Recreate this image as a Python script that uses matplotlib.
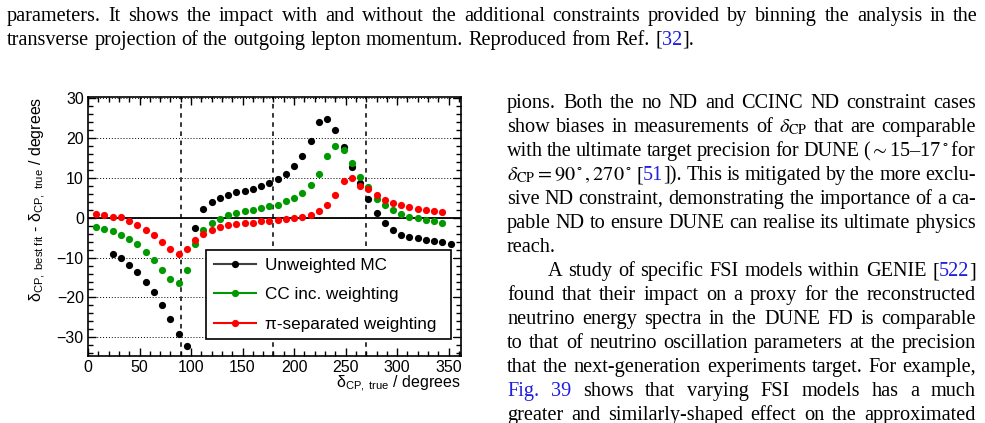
import re
import matplotlib
matplotlib.use("Agg")
import matplotlib.pyplot as plt
from matplotlib.lines import Line2D
from matplotlib.ticker import MultipleLocator

plt.rcParams['font.family'] = ['Liberation Sans', 'DejaVu Sans']
plt.rcParams['mathtext.fontset'] = 'custom'
plt.rcParams['mathtext.rm'] = 'Liberation Sans'
plt.rcParams['mathtext.it'] = 'Liberation Sans:italic'
plt.rcParams['mathtext.bf'] = 'Liberation Sans:bold'

# delta_CP true (degrees) for each fit
unweighted_x = list(range(24, 353, 8))
cc_inc_x = list(range(8, 345, 8))
pi_sep_x = list(range(8, 345, 8))

# delta_CP best fit - delta_CP true (degrees)
unweighted_y = [-9.1, -10.2, -11.8, -13.6, -16.0, -18.7, -21.8, -25.5, -29.3, -32.2,
                -2.5, 2.1, 4.0, 4.9, 5.6, 6.4, 6.7, 7.2, 7.9, 8.7,
                9.7, 11.1, 13.1, 15.5, 19.4, 24.1, 24.9, 22.0, 17.7, 12.8,
                8.8, 4.7, 1.2, -1.3, -3.1, -4.2, -4.7, -5.2, -5.6, -5.9,
                -6.2, -6.6]
cc_inc_y = [-2.3, -2.7, -3.3, -4.2, -5.3, -6.7, -8.5, -10.5, -13.0, -15.3,
            -16.4, -13.0, -6.6, -3.0, -1.3, -0.2, 0.6, 1.2, 1.6, 2.0,
            2.5, 2.9, 3.2, 4.2, 5.0, 6.3, 8.2, 11.1, 15.6, 18.0,
            16.9, 13.7, 10.3, 7.7, 4.8, 3.1, 1.9, 1.0, 0.3, 0.0,
            -0.5, -0.7, -1.2]
pi_sep_y = [1.0, 0.7, 0.3, 0.1, -0.8, -1.7, -3.1, -4.3, -6.2, -7.8,
            -9.1, -7.8, -5.6, -4.0, -3.0, -2.3, -1.9, -1.6, -1.3, -1.2,
            -0.9, -0.7, -0.5, -0.3, -0.1, 0.2, 0.6, 1.6, 3.2, 5.6,
            9.3, 10.1, 8.1, 7.3, 5.8, 4.5, 3.8, 3.2, 2.7, 2.2,
            2.0, 1.7, 1.5]

series_labels = ['Unweighted MC', 'CC inc. weighting', 'π-separated weighting']
series_colors = ['black', '#009900', '#ff0000']
highlight_dcp = [90, 180, 270]

# surrounding page text: (text, justified, left px, right px, baseline px)
caption_lines = [
    ("parameters.  It shows the impact with and without the additional constraints provided by binning the analysis in the", True, 7, 978, 21),
    ("transverse projection of the outgoing lepton momentum. Reproduced from Ref. [«32»].", False, 7, 978, 45),
]
column_lines = [
    "pions.  Both the no ND and CCINC ND constraint cases",
    r"show biases in measurements of $\delta_\mathrm{CP}$ that are comparable",
    r"with the ultimate target precision for DUNE ($\sim$15–17$^\circ$for",
    r"$\delta_\mathrm{CP}=90^\circ,270^\circ$ [«51»]). This is mitigated by the more exclu-",
    "sive ND constraint, demonstrating the importance of a ca-",
    "pable ND to ensure DUNE can realise its ultimate physics",
    "reach.",
    "A study of specific FSI models within GENIE [«522»]",
    "found that their impact on a proxy for the reconstructed",
    "neutrino energy spectra in the DUNE FD is comparable",
    "to that of neutrino oscillation parameters at the precision",
    "that the next-generation experiments target. For example,",
    "«Fig.» «39» shows that varying FSI models has a much",
    "greater and similarly-shaped effect on the approximated",
]

W, H = 985, 423
BODY = 14.6
LINK = '#1f1fdd'

fig = plt.figure(figsize=(W / 100, H / 100), dpi=100)
renderer = fig.canvas.get_renderer()


def body_text(x, y, s, color='black'):
    return fig.text(x / W, 1 - y / H, s, fontsize=BODY, color=color,
                    family='Liberation Serif', math_fontfamily='stix',
                    va='baseline', ha='left')


def word_width(pieces):
    total = 0
    for s, c in pieces:
        t = body_text(0, 0, s, c)
        total += t.get_window_extent(renderer).width
        t.remove()
    return total


def split_word(w):
    pieces = []
    for p in re.split(r'(«[^»]*»)', w):
        if not p:
            continue
        if p.startswith('«'):
            pieces.append((p[1:-1], LINK))
        else:
            pieces.append((p, 'black'))
    return pieces


def draw_line(text, justify, x0, x1, y):
    words = [split_word(w) for w in text.split()]
    widths = [word_width(w) for w in words]
    if justify and len(words) > 1:
        gap = (x1 - x0 - sum(widths)) / (len(words) - 1)
    else:
        gap = 0.25 * BODY * 100 / 72
    x = x0
    for w, wd in zip(words, widths):
        xp = x
        for s, c in w:
            t = body_text(xp, y, s, c)
            xp += t.get_window_extent(renderer).width
        x += wd + gap


for text, just, x0, x1, y in caption_lines:
    draw_line(text, just, x0, x1, y)

for i, text in enumerate(column_lines):
    y = 108 + 24 * i
    x0 = 548 if text.startswith('A study') else 507
    draw_line(text, text != 'reach.', x0, 976, y)

# ---- the chart ----
ax = fig.add_axes([88 / W, 1 - 356 / H, (461 - 88) / W, (356 - 97.5) / H])

ax.axhline(0, color='black', lw=1.3, zorder=1.5)
for v in highlight_dcp:
    ax.axvline(v, color='black', lw=1.1, ls=(0, (3, 3)), zorder=1.5)
ax.grid(axis='y', color='black', lw=0.7, ls=(0, (1, 2)))

for xs, ys, col in [(unweighted_x, unweighted_y, series_colors[0]),
                    (cc_inc_x, cc_inc_y, series_colors[1]),
                    (pi_sep_x, pi_sep_y, series_colors[2])]:
    ax.plot(xs, ys, 'o', color=col, ms=5.2, mec='none', zorder=3)

ax.set_xlim(0, 362)
ax.set_ylim(-34.7, 30.2)
ax.xaxis.set_major_locator(MultipleLocator(50))
ax.xaxis.set_minor_locator(MultipleLocator(10))
ax.yaxis.set_major_locator(MultipleLocator(10))
ax.yaxis.set_minor_locator(MultipleLocator(2))
ax.tick_params(which='both', direction='in', top=True, right=True,
               labelsize=11.5, pad=3, width=1)
ax.tick_params(which='major', length=6)
ax.tick_params(which='minor', length=3.5)
for sp in ax.spines.values():
    sp.set_linewidth(1.2)

handles = [Line2D([], [], color=c if c != 'black' else '#404040', lw=1.5,
                  marker='o', ms=5.2, mfc=c, mec='none')
           for c in series_colors]
leg = ax.legend(handles, series_labels, loc='upper left',
                bbox_to_anchor=(0.316, 0.41, 0.657, 0.0), mode='expand',
                fontsize=12.3, frameon=True, fancybox=False, framealpha=1,
                edgecolor='black', borderpad=0.45, labelspacing=0.85,
                handlelength=2.5, handletextpad=0.5, borderaxespad=0)
leg.get_frame().set_linewidth(1.2)

fig.text(461 / W, 1 - 374 / H, 'δ$_{\\mathrm{CP,\\ true}}$ / degrees',
         ha='right', va='top', fontsize=11.5)
fig.text(38 / W, 1 - 97 / H,
         'δ$_{\\mathrm{CP,\\ best\\ fit}}$ - δ$_{\\mathrm{CP,\\ true}}$ / degrees',
         rotation=90, ha='center', va='top', fontsize=11.5)

fig.savefig('out.png', dpi=100)
